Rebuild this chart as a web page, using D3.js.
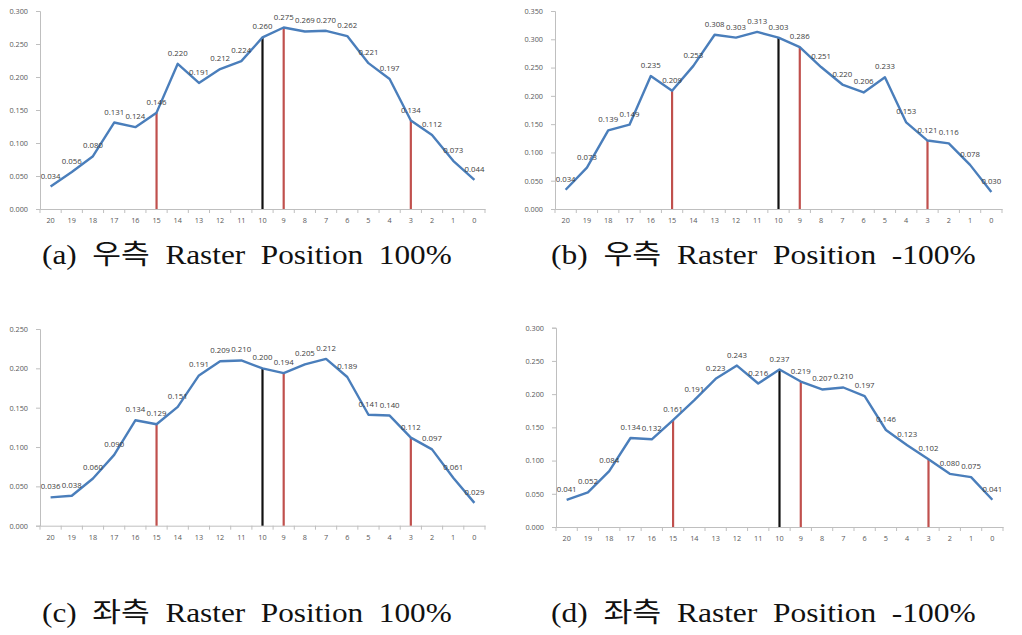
<!DOCTYPE html>
<html>
<head>
<meta charset="utf-8">
<script src="https://cdn.jsdelivr.net/npm/d3@7"></script>
<style>
  html, body { margin: 0; padding: 0; background: #fff; }
  svg { display: block; }
</style>
</head>
<body>
<svg id="chart" width="1022" height="635"></svg>
<script>
// ---- data ----
const categories = ["20","19","18","17","16","15","14","13","12","11","10","9","8","7","6","5","4","3","2","1","0"];
const valuesA = [0.034,0.056,0.080,0.131,0.124,0.146,0.220,0.191,0.212,0.224,0.260,0.275,0.269,0.270,0.262,0.221,0.197,0.134,0.112,0.073,0.044];
const valuesB = [0.034,0.073,0.139,0.149,0.235,0.209,0.253,0.308,0.303,0.313,0.303,0.286,0.251,0.220,0.206,0.233,0.153,0.121,0.116,0.078,0.030];
const valuesC = [0.036,0.038,0.060,0.090,0.134,0.129,0.151,0.191,0.209,0.210,0.200,0.194,0.205,0.212,0.189,0.141,0.140,0.112,0.097,0.061,0.029];
const valuesD = [0.041,0.052,0.084,0.134,0.132,0.161,0.191,0.223,0.243,0.216,0.237,0.219,0.207,0.210,0.197,0.146,0.123,0.102,0.080,0.075,0.041];
const yTicksA = [0,0.05,0.10,0.15,0.20,0.25,0.30];
const yTicksB = [0,0.05,0.10,0.15,0.20,0.25,0.30,0.35];
const yTicksC = [0,0.05,0.10,0.15,0.20,0.25];
const yTicksD = [0,0.05,0.10,0.15,0.20,0.25,0.30];
const markerCats = ["15","10","9","3"];
const markerKinds = ["red","black","red","red"];
const captions = ["(a) 우측 Raster Position 100%","(b) 우측 Raster Position -100%","(c) 좌측 Raster Position 100%","(d) 좌측 Raster Position -100%"];

// ---- layout ----
const panels = [
  {values: valuesA, ticks: yTicksA, x0: 40,  x1: 485,  yTop: 11,    yBot: 209,   capX: 42,  capY: 264, capW: 410},
  {values: valuesB, ticks: yTicksB, x0: 555, x1: 1002, yTop: 11,    yBot: 209,   capX: 551, capY: 264, capW: 425},
  {values: valuesC, ticks: yTicksC, x0: 40,  x1: 485,  yTop: 329,   yBot: 525.7, capX: 42,  capY: 622, capW: 410},
  {values: valuesD, ticks: yTicksD, x0: 556, x1: 1003, yTop: 327.7, yBot: 527,   capX: 551, capY: 622, capW: 425}
];
const colors = {line: "#4a7ebb", red: "#c0504d", black: "#111111", axis: "#bfbfbf", text: "#595959", label: "#404040"};

const svg = d3.select("#chart");

panels.forEach((p, pi) => {
  const g = svg.append("g");
  const x = d3.scaleBand().domain(categories).range([p.x0, p.x1]).padding(0);
  const y = d3.scaleLinear().domain([0, d3.max(p.ticks)]).range([p.yBot, p.yTop]);
  const cx = c => x(c) + x.bandwidth() / 2;

  // y axis
  const ya = g.append("g").attr("transform", `translate(${p.x0},0)`)
    .call(d3.axisLeft(y).tickValues(p.ticks).tickFormat(d3.format(".3f")).tickSize(4).tickPadding(8));
  ya.select(".domain").attr("stroke", colors.axis).attr("stroke-width", 1);
  ya.selectAll(".tick line").attr("stroke", colors.axis);
  ya.selectAll(".tick text").attr("fill", colors.text).style("font-family", "'Open Sans', sans-serif").style("font-size", "7.3px");

  // x axis (labels centered, ticks at boundaries)
  const xa = g.append("g").attr("transform", `translate(0,${p.yBot})`)
    .call(d3.axisBottom(x).tickSize(0).tickPadding(9));
  xa.select(".domain").attr("stroke", colors.axis).attr("stroke-width", 1);
  xa.selectAll(".tick text").attr("fill", colors.text).style("font-family", "'Open Sans', sans-serif").style("font-size", "7.3px");
  const bounds = categories.map(c => x(c)).concat([p.x1]);
  g.append("g").selectAll("line").data(bounds).join("line")
    .attr("x1", d => d).attr("x2", d => d)
    .attr("y1", p.yBot).attr("y2", p.yBot + 4)
    .attr("stroke", colors.axis);

  // marker verticals
  markerCats.forEach((c, k) => {
    const v = p.values[categories.indexOf(c)];
    g.append("line")
      .attr("x1", cx(c)).attr("x2", cx(c))
      .attr("y1", y(0)).attr("y2", y(v))
      .attr("stroke", colors[markerKinds[k]]).attr("stroke-width", 2.2);
  });

  // series line
  const pts = categories.map((c, i) => ({c, v: p.values[i]}));
  g.append("path").datum(pts)
    .attr("fill", "none").attr("stroke", colors.line).attr("stroke-width", 2.4)
    .attr("stroke-linejoin", "round")
    .attr("d", d3.line().x(d => cx(d.c)).y(d => y(d.v)));

  // data labels
  g.append("g").selectAll("text").data(pts).join("text")
    .attr("x", d => cx(d.c)).attr("y", d => y(d.v) - 8)
    .attr("text-anchor", "middle")
    .attr("fill", colors.label)
    .style("font-family", "'Open Sans', sans-serif").style("font-size", "7.8px")
    .text(d => d3.format(".3f")(d.v));

  // caption: natural glyphs, horizontally fitted to the reference width
  const cap = svg.append("text")
    .attr("x", 0).attr("y", 0)
    .attr("fill", "#111")
    .style("font-family", "'Liberation Serif', 'DejaVu Serif', 'Noto Sans CJK KR', serif")
    .style("font-size", "27px")
    .style("white-space", "pre")
    .text(captions[pi].replace(/ /g, "\u00a0\u00a0"));
  const len = cap.node().getComputedTextLength();
  const sx = p.capW / len;
  cap.attr("transform", `translate(${p.capX},${p.capY}) scale(${sx},1)`);
});
</script>
</body>
</html>
